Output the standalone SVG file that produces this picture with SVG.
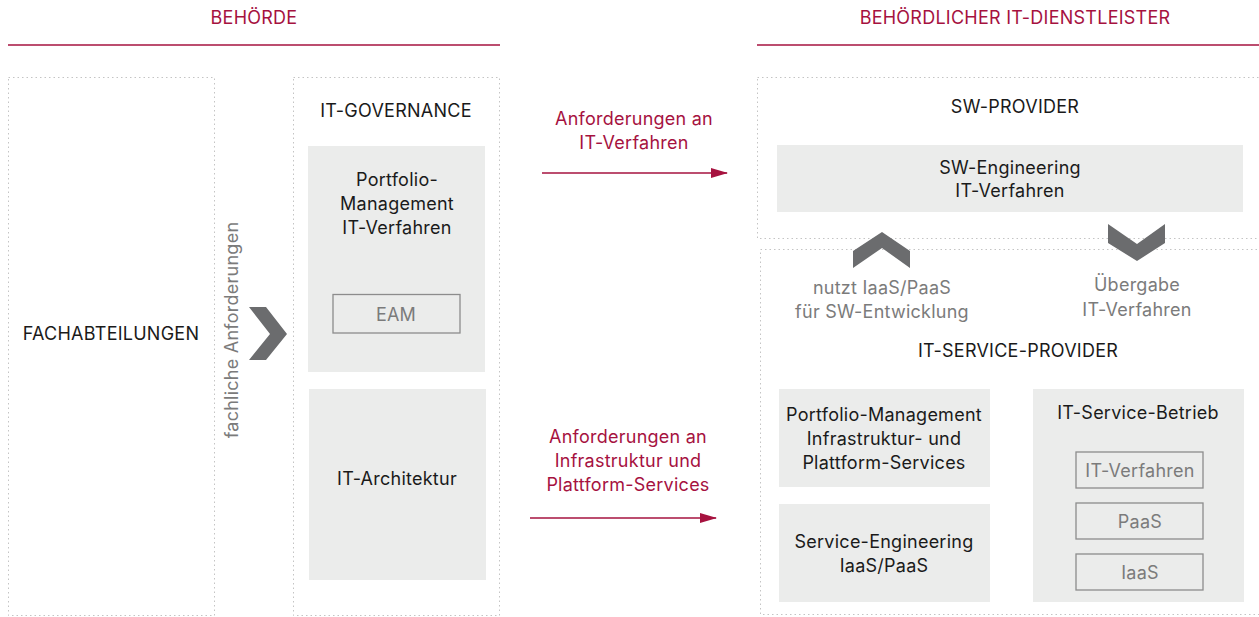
<svg xmlns="http://www.w3.org/2000/svg" width="1259" height="617" viewBox="0 0 1259 617">
<style>
text{font-family:Inter,"Liberation Sans",Arial,sans-serif;font-size:18px;letter-spacing:0.25px;text-anchor:middle;fill:#1a1a1a}
.red{fill:#a6123f}
.grey{fill:#7b7b7b}
.dot{fill:none;stroke:#c4c4c4;stroke-width:1;stroke-dasharray:1.5 3}
.box{fill:#ebeceb}
.sub{fill:none;stroke:#8c8c8c;stroke-width:1.3}
.chev{fill:#6b6c6e}
.hdr{stroke:#a6123f;stroke-width:1.5}
.arr{stroke:#a6123f;stroke-width:1.5;fill:none}
</style>
<defs>
<marker id="ah" markerWidth="17" markerHeight="10" refX="16" refY="5" orient="auto" markerUnits="userSpaceOnUse">
<path d="M0,0 L17,5 L0,10 Z" fill="#a6123f"/>
</marker>
</defs>
<rect width="1259" height="617" fill="#fff"/>
<g id="header-behoerde">
<text x="254" y="24" class="red">BEHÖRDE</text>
<line x1="8" y1="45" x2="500" y2="45" class="hdr"/>
</g>
<g id="header-dienstleister">
<text x="1015" y="24" class="red">BEHÖRDLICHER IT-DIENSTLEISTER</text>
<line x1="757" y1="45" x2="1259" y2="45" class="hdr"/>
</g>
<g id="fachabteilungen">
<rect x="8.5" y="77.5" width="206" height="538" class="dot"/>
<text x="111" y="340">FACHABTEILUNGEN</text>
</g>
<g id="fachliche-anforderungen">
<text x="238" y="330" class="grey" transform="rotate(-90 238 330)">fachliche Anforderungen</text>
<path d="M249,307 L266,307 L287,334 L266,360 L249,360 L270,334 Z" class="chev"/>
</g>
<g id="it-governance">
<rect x="293.5" y="77.5" width="206" height="538" class="dot"/>
<text x="396" y="117">IT-GOVERNANCE</text>
</g>
<g id="portfolio-it-verfahren">
<rect x="308" y="146" width="177" height="226" class="box"/>
<text x="397" y="186">Portfolio-</text>
<text x="397" y="210">Management</text>
<text x="397" y="234">IT-Verfahren</text>
</g>
<g id="eam">
<rect x="333" y="294.5" width="127" height="38.5" class="sub"/>
<text x="396" y="321" class="grey">EAM</text>
</g>
<g id="it-architektur">
<rect x="309" y="389" width="177" height="191" class="box"/>
<text x="397" y="485">IT-Architektur</text>
</g>
<g id="sw-provider">
<rect x="757.5" y="77.5" width="502" height="161" class="dot"/>
<text x="1015" y="113">SW-PROVIDER</text>
</g>
<g id="sw-engineering">
<rect x="777" y="145" width="466" height="67" class="box"/>
<text x="1010" y="174">SW-Engineering</text>
<text x="1010" y="197">IT-Verfahren</text>
</g>
<g id="it-service-provider">
<rect x="760.5" y="249.5" width="499" height="365" class="dot"/>
<text x="1018" y="357">IT-SERVICE-PROVIDER</text>
</g>
<g id="nutzt">
<path d="M853,251 L882,232 L910,251 L910,268 L882,248 L853,268 Z" class="chev"/>
<text x="882" y="294" class="grey">nutzt IaaS/PaaS</text>
<text x="882" y="318" class="grey">für SW-Entwicklung</text>
</g>
<g id="uebergabe">
<path d="M1108,224 L1137,244 L1165,224 L1165,243 L1137,261 L1108,243 Z" class="chev"/>
<text x="1137" y="291" class="grey">Übergabe</text>
<text x="1137" y="316" class="grey">IT-Verfahren</text>
</g>
<g id="portfolio-infra">
<rect x="779" y="389" width="211" height="98" class="box"/>
<text x="884" y="421">Portfolio-Management</text>
<text x="884" y="445">Infrastruktur- und</text>
<text x="884" y="469">Plattform-Services</text>
</g>
<g id="service-engineering">
<rect x="779" y="504" width="211" height="98" class="box"/>
<text x="884" y="548">Service-Engineering</text>
<text x="884" y="572">IaaS/PaaS</text>
</g>
<g id="it-service-betrieb">
<rect x="1033" y="389" width="211" height="213" class="box"/>
<text x="1138" y="419">IT-Service-Betrieb</text>
</g>
<g id="betrieb-it-verfahren">
<rect x="1076" y="452" width="127" height="36" class="sub"/>
<text x="1140" y="477" class="grey">IT-Verfahren</text>
</g>
<g id="betrieb-paas">
<rect x="1076" y="503" width="127" height="36" class="sub"/>
<text x="1140" y="528" class="grey">PaaS</text>
</g>
<g id="betrieb-iaas">
<rect x="1076" y="554" width="127" height="36" class="sub"/>
<text x="1140" y="579" class="grey">IaaS</text>
</g>
<g id="connectors">
<line x1="542" y1="173" x2="727" y2="173" class="arr" marker-end="url(#ah)"/>
<text x="634" y="125" class="red">Anforderungen an</text>
<text x="634" y="149" class="red">IT-Verfahren</text>
<line x1="530" y1="518" x2="716" y2="518" class="arr" marker-end="url(#ah)"/>
<text x="628" y="443" class="red">Anforderungen an</text>
<text x="628" y="467" class="red">Infrastruktur und</text>
<text x="628" y="491" class="red">Plattform-Services</text>
</g>
</svg>
